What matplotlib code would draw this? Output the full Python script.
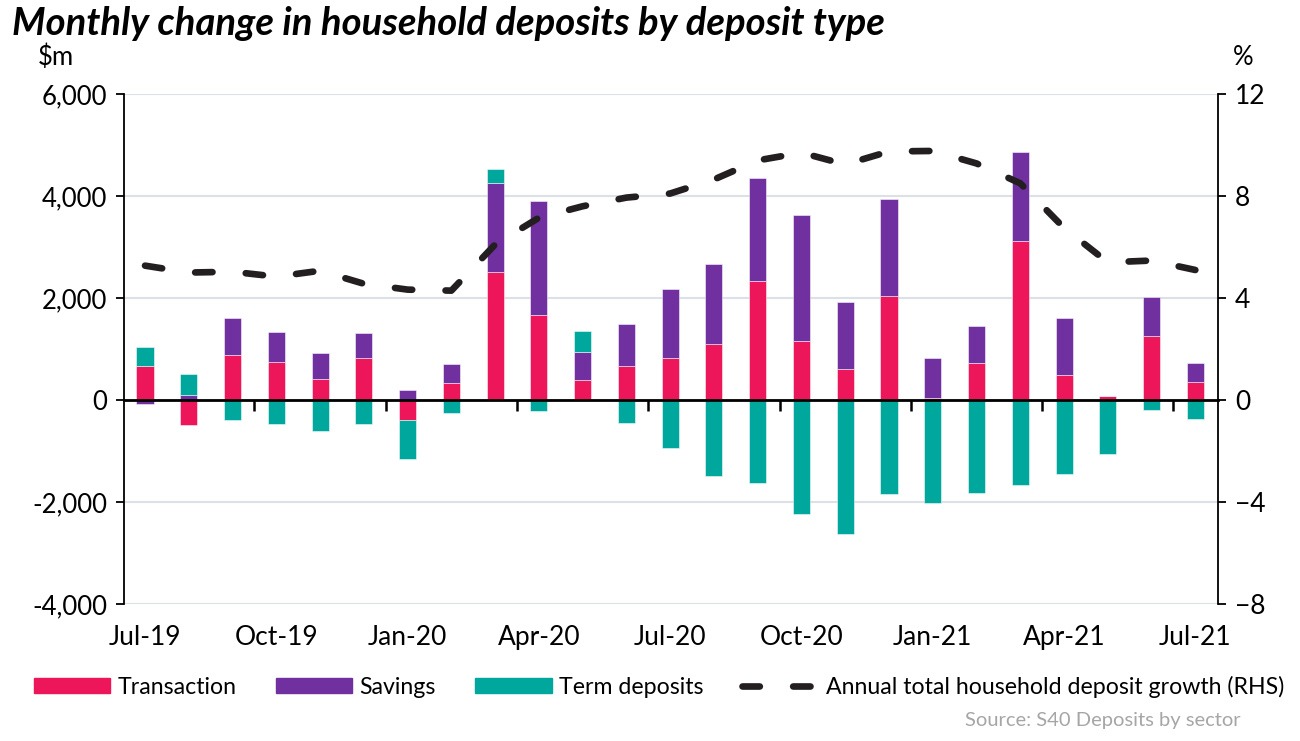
import matplotlib
matplotlib.use("Agg")
import matplotlib.pyplot as plt
import matplotlib.transforms as mtransforms
from matplotlib.patches import Patch
from matplotlib.lines import Line2D
import numpy as np

plt.rcParams['font.family'] = ['Lato', 'DejaVu Sans']

months = ["Jul-19", "Aug-19", "Sep-19", "Oct-19", "Nov-19", "Dec-19", "Jan-20", "Feb-20",
          "Mar-20", "Apr-20", "May-20", "Jun-20", "Jul-20", "Aug-20", "Sep-20", "Oct-20",
          "Nov-20", "Dec-20", "Jan-21", "Feb-21", "Mar-21", "Apr-21", "May-21", "Jun-21", "Jul-21"]
transaction = [670, -485, 880, 755, 413, 814, -400, 328,
               2517, 1672, 393, 669, 826, 1101, 2332, 1152,
               604, 2039, 35, 722, 3121, 486, 80, 1265, 348]
savings = [-85, 100, 727, 570, 511, 498, 190, 387,
           1743, 2234, 543, 826, 1357, 1560, 2019, 2478,
           1324, 1908, 793, 727, 1743, 1113, 0, 747, 380]
term_deposits = [374, 407, -393, -478, -616, -472, -760, -248,
                 269, -224, 421, -460, -938, -1495, -1626, -2242,
                 -2622, -1842, -2026, -1823, -1666, -1449, -1068, -190, -368]
growth = [5.27, 5.0, 5.03, 4.84, 5.07, 4.56, 4.33, 4.29,
          6.1, 7.15, 7.6, 7.94, 8.1, 8.65, 9.4, 9.7,
          9.24, 9.75, 9.77, 9.28, 8.5, 6.75, 5.4, 5.47, 5.1]
tick_labels = ["Jul-19", "Oct-19", "Jan-20", "Apr-20", "Jul-20", "Oct-20", "Jan-21", "Apr-21", "Jul-21"]

c_tr = "#ED165A"
c_sv = "#7030A0"
c_td = "#00A79D"
c_line = "#231F20"

fig = plt.figure(figsize=(13, 7.41), dpi=100)
ax = fig.add_axes([0.0954, 0.185, 0.8416, 0.688])

x = np.arange(len(months))
w = 0.39
pos_base = np.zeros(len(x))
neg_base = np.zeros(len(x))
for vals, col in [(transaction, c_tr), (savings, c_sv), (term_deposits, c_td)]:
    v = np.array(vals, dtype=float)
    bottoms = np.where(v >= 0, pos_base, neg_base)
    ax.bar(x, v, w, bottom=bottoms, color=col, edgecolor=(1, 1, 1, 0.6), linewidth=0.6, zorder=3)
    pos_base = pos_base + np.where(v >= 0, v, 0)
    neg_base = neg_base + np.where(v < 0, v, 0)

ax.set_xlim(-0.48, 24.52)
ax.set_ylim(-4000, 6000)
ax.set_yticks([-4000, -2000, 0, 2000, 4000, 6000])
ax.set_yticklabels([f"{int(v):,}" for v in [-4000, -2000, 0, 2000, 4000, 6000]])
ax.yaxis.grid(True, color="#DCE1E8", linewidth=1.5, zorder=0)
ax.set_axisbelow(True)
ax.tick_params(axis='y', direction='out', length=6, width=1.3, labelsize=18.5, pad=6)

for s in ['top', 'right']:
    ax.spines[s].set_visible(False)
ax.spines['left'].set_linewidth(1.3)
ax.spines['bottom'].set_position(('data', 0))
ax.spines['bottom'].set_linewidth(2)
ax.spines['bottom'].set_zorder(4)
ax.set_xticks(np.arange(2.5, 24, 3))
ax.set_xticklabels([])
ax.tick_params(axis='x', direction='out', length=8, width=1.8)

trans = mtransforms.blended_transform_factory(ax.transData, ax.transAxes)
for i, lab in zip(range(0, 25, 3), tick_labels):
    ax.text(i, -0.065, lab, transform=trans, ha='center', va='center', fontsize=19, color='black')

ax2 = ax.twinx()
ax2.set_ylim(-8, 12)
ax2.set_yticks([-8, -4, 0, 4, 8, 12])
ax2.tick_params(axis='y', direction='out', length=6, width=1.3, labelsize=19, pad=6)
for s in ['top', 'left', 'bottom']:
    ax2.spines[s].set_visible(False)
ax2.spines['right'].set_linewidth(1.3)
ln, = ax2.plot(x, growth, color=c_line, linewidth=4.8, dashes=(2.6, 5.0),
               dash_capstyle='round', zorder=5)

fig.text(0.009, 0.968, "Monthly change in household deposits by deposit type",
         fontsize=27.5, fontweight='bold', fontstyle='italic', ha='left', va='center')
fig.text(0.043, 0.923, "$m", fontsize=18.5, ha='center', va='center')
fig.text(0.956, 0.923, "%", fontsize=18.5, ha='center', va='center')

handles = [Patch(color=c_tr), Patch(color=c_sv), Patch(color=c_td),
           Line2D([0], [0], color=c_line, linewidth=4.8, dashes=(2.6, 5.0), dash_capstyle='round')]
labels = ["Transaction", "Savings", "Term deposits", "Annual total household deposit growth (RHS)"]
fig.legend(handles, labels, loc='center left', bbox_to_anchor=(0.026, 0.073), ncol=4,
           frameon=False, fontsize=16.7, handlelength=3.3, handleheight=0.6, handletextpad=0.3,
           columnspacing=1.7, borderpad=0, borderaxespad=0)

fig.text(0.954, 0.028, "Source: S40 Deposits by sector", fontsize=14.5, color="#A6A6A6",
         ha='right', va='center')

fig.savefig("out.png", dpi=100)
